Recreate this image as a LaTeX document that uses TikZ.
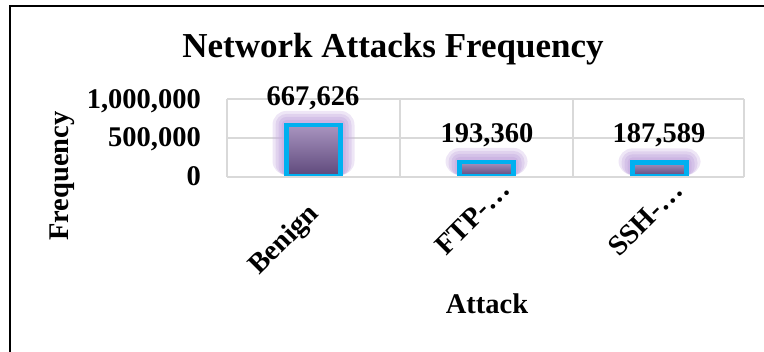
\documentclass[tikz,border=0pt]{standalone}
\usepackage{fontspec}
\setmainfont{Liberation Serif}
\usepackage{tikz}
\usetikzlibrary{positioning, calc}

\definecolor{barcyan}{HTML}{00B0F0}
\definecolor{bartop}{HTML}{A995C0}
\definecolor{barbot}{HTML}{5E487B}
\definecolor{glowpurple}{HTML}{C6ADE0}
\definecolor{gridgray}{HTML}{D9D9D9}

\begin{document}
\begin{tikzpicture}[x=1pt, y=1pt,
  gridline/.style={draw=gridgray, line width=1.6pt},
  barbox/.style={draw=barcyan, line width=4.5pt, top color=bartop, bottom color=barbot},
  chartfont/.style={font=\fontsize{28.5}{30}\selectfont\bfseries, inner sep=0pt},
  valuelabel/.style={chartfont, anchor=base},
  ticklabel/.style={chartfont, anchor=base east},
  catlabel/.style={chartfont, rotate=45, anchor=north east}
]
\useasboundingbox (0,0) rectangle (764,352);

% outer frame
\draw[line width=2.5pt] (10,0) -- (10,346) -- (764,346);

% title
\node[font=\fontsize{35}{37}\selectfont\bfseries, inner sep=0pt, anchor=base] (title) at (393,294) {Network Attacks Frequency};

% grid
\foreach \y in {214,253}
  \draw[gridline] (227,\y) -- (744,\y);
\foreach \x in {227,400,573,744}
  \draw[gridline] (\x,175) -- (\x,253);

% bars with glow
\foreach \cx/\val in {313.5/0.667626, 486.5/0.19336, 659.5/0.187589} {
  \foreach \g/\o in {14/0.3, 11/0.35, 8/0.45, 5/0.6}
    \fill[glowpurple, opacity=\o, rounded corners=\g pt] (\cx-27-\g,177) rectangle (\cx+27+\g,175+\val*78+\g);
  \draw[barbox] (\cx-27,176) rectangle (\cx+27,175+\val*78);
}
\draw[gridline] (227,175) -- (744,175);

% values
\node[valuelabel] (val-benign) at (313,246) {667,626};
\node[valuelabel] (val-ftp) at (487,209) {193,360};
\node[valuelabel] (val-ssh) at (659,209) {187,589};

% y axis
\node[ticklabel] (tick1m) at (201,243) {1,000,000};
\node[ticklabel] (tick500k) at (201,205) {500,000};
\node[ticklabel] (tick0) at (201,166) {0};
\node[chartfont, rotate=90] (ytitle) at (62,176) {Frequency};

% x axis
\node[catlabel] (cat-benign) at (306,151) {Benign};
\node[catlabel] (cat-ftp) at (498,174) {FTP-…};
\node[catlabel] (cat-ssh) at (671,173) {SSH-…};
\node[valuelabel] (xtitle) at (487,38) {Attack};
\end{tikzpicture}
\end{document}
